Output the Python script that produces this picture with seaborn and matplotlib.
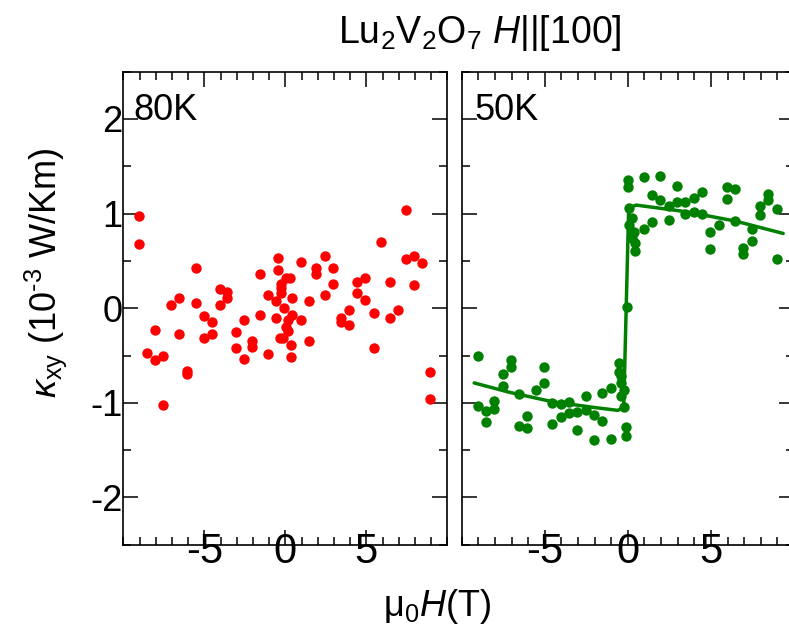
import numpy as np
import pandas as pd
import matplotlib
matplotlib.use("Agg")
import matplotlib.pyplot as plt
import seaborn as sns
from matplotlib.ticker import MultipleLocator, FixedLocator

# ---------------- data ----------------
field_80K = [-9.05, -9.05, 7.43, 5.93, -0.46, 2.43, 0.94, 7.43, 7.94, 8.43,
             -5.54, -1.57, -0.46, 1.91, 1.91, 2.94, 0.06, 0.27, -0.27, 2.94,
             4.42, 4.94, 6.44, 7.94, -4.06, -3.58, -3.58, -6.57, -7.08, -5.54,
             -4.06, -1.05, -0.27, -0.27, -0.56, 0.43, 1.44, 2.43, 4.42, 4.94,
             -0.06, 3.93, 6.93, -5.04, -4.55, -4.55, -5.04, -6.57, -8.06, -8.54,
             -8.06, -7.55, -6.05, -6.05, -7.55, -3.07, -2.58, -3.07, -2.58, -2.06,
             -2.06, -1.57, -1.05, -0.56, 0.16, 0.43, 0.06, 0.16, -0.35, -0.15,
             0.33, 0.33, 0.94, 1.44, 3.43, 3.43, 3.93, 5.45, 5.45, 6.44,
             8.93, 8.93]
kxy_80K = [0.97, 0.68, 1.04, 0.70, 0.53, 0.55, 0.49, 0.52, 0.555, 0.48,
           0.43, 0.36, 0.40, 0.43, 0.36, 0.43, 0.32, 0.32, 0.26, 0.26,
           0.28, 0.32, 0.28, 0.25, 0.20, 0.17, 0.11, 0.11, 0.03, 0.06,
           0.03, 0.14, 0.21, 0.16, 0.08, 0.11, 0.08, 0.14, 0.16, 0.09,
           0.00, -0.02, -0.02, -0.08, -0.15, -0.27, -0.31, -0.27, -0.23, -0.47,
           -0.55, -0.51, -0.66, -0.70, -1.02, -0.25, -0.13, -0.42, -0.54, -0.35,
           -0.41, -0.07, -0.48, -0.10, -0.12, -0.07, -0.20, -0.24, -0.31, -0.31,
           -0.39, -0.52, -0.12, -0.35, -0.10, -0.15, -0.18, -0.05, -0.42, -0.10,
           -0.67, -0.96]

field_50K = [0.02, 0.02, 0.96, 1.96, 1.46, 1.96, 2.96, 2.46, 2.96, 3.46,
             3.96, 4.46, 3.46, 3.96, 4.46, 2.46, 1.46, 0.96, 4.96, 4.96,
             5.46, 5.96, 6.46, 5.96, 6.46, 6.96, 6.96, 7.46, 7.46, 7.96,
             7.96, 8.46, 8.46, 8.96, 8.96,
             0.06, 0.26, 0.06, 0.36, 0.26, 0.46, 0.46, -0.04,
             -9.04, -9.04, -8.54, -8.54, -8.04, -8.04, -7.54, -7.54, -7.04, -7.04,
             -6.54, -6.54, -6.04, -6.04, -5.54, -5.04, -5.04, -4.54, -4.54, -4.04,
             -4.04, -3.54, -3.54, -3.04, -3.04, -2.54, -2.54, -2.04, -2.04, -1.54,
             -1.54, -1.04, -1.04, -0.54, -0.54, -0.44, -0.44, -0.44, -0.24, -0.24,
             -0.14, -0.14]
kxy_50K = [1.36, 1.28, 1.39, 1.40, 1.20, 1.14, 1.29, 1.08, 1.12, 1.12,
           1.17, 1.23, 1.00, 1.02, 1.00, 0.93, 0.91, 0.84, 0.81, 0.63,
           0.88, 1.28, 1.26, 1.15, 0.92, 0.64, 0.57, 0.84, 0.71, 1.08,
           0.99, 1.21, 1.14, 1.05, 0.52,
           1.06, 0.95, 0.88, 0.81, 0.74, 0.69, 0.60, 0.01,
           -0.51, -1.03, -1.09, -1.20, -0.98, -1.07, -0.70, -0.82, -0.55, -0.62,
           -0.91, -1.24, -1.14, -1.27, -0.86, -0.62, -0.79, -1.00, -1.22, -1.01,
           -1.15, -0.99, -1.11, -1.10, -1.29, -0.93, -1.08, -1.13, -1.39, -0.90,
           -1.19, -0.84, -1.38, -0.58, -0.67, -0.72, -0.79, -0.93, -0.86, -1.04,
           -1.26, -1.35]

fit_field_50K = [-9.25, -7.1, -4.5, -2.0, -0.6, -0.25, -0.1, 0.05, 0.5, 3.5, 6.5, 9.35]
fit_kxy_50K = [-0.79, -0.89, -0.99, -1.05, -1.08, -1.05, 0.0, 1.06, 1.09, 1.02, 0.92, 0.79]

x_ticks = [-5, 0, 5]
y_ticks = [-2, -1, 0, 1, 2]
panel_labels = ["80K", "50K"]
title_text = "Lu$_2$V$_2$O$_7$ $H$||[100]"

# ---------------- style ----------------
sns.set_theme(style="white")
plt.rcParams['font.family'] = ['Liberation Sans', 'DejaVu Sans']
plt.rcParams['mathtext.fontset'] = 'custom'
plt.rcParams['mathtext.rm'] = 'Liberation Sans'
plt.rcParams['mathtext.it'] = 'Liberation Sans:italic'
plt.rcParams['mathtext.bf'] = 'Liberation Sans:bold'
plt.rcParams['axes.unicode_minus'] = False
for key in ['text.color', 'axes.labelcolor', 'xtick.color', 'ytick.color', 'axes.edgecolor']:
    plt.rcParams[key] = 'black'

W, H = 789, 632
fig = plt.figure(figsize=(W / 100, H / 100), dpi=100)
fig.patch.set_facecolor('white')


def rect(l, r, t, b):
    return [l / W, 1 - b / H, (r - l) / W, (b - t) / H]


ax1 = fig.add_axes(rect(123.3, 447.3, 71.7, 544.7))
ax2 = fig.add_axes(rect(461.7, 794.0, 71.7, 544.7))

df80 = pd.DataFrame({"field": field_80K, "kxy": kxy_80K})
df50 = pd.DataFrame({"field": field_50K, "kxy": kxy_50K})
dfit = pd.DataFrame({"field": fit_field_50K, "kxy": fit_kxy_50K})

sns.scatterplot(data=df80, x="field", y="kxy", ax=ax1, color="#ff0000",
                s=56, linewidth=0, legend=False, zorder=3)
sns.lineplot(data=dfit, x="field", y="kxy", ax=ax2, color="#008000",
             lw=2.5, sort=False, estimator=None, legend=False, zorder=2)
sns.scatterplot(data=df50, x="field", y="kxy", ax=ax2, color="#008000",
                s=56, linewidth=0, legend=False, zorder=3)

for i, ax in enumerate([ax1, ax2]):
    ax.set_xlim(-10, 10)
    ax.set_ylim(-2.5, 2.5)
    ax.set_xlabel("")
    ax.set_ylabel("")
    ax.xaxis.set_major_locator(FixedLocator(x_ticks))
    ax.xaxis.set_minor_locator(MultipleLocator(1))
    ax.yaxis.set_major_locator(FixedLocator(y_ticks))
    ax.yaxis.set_minor_locator(MultipleLocator(0.5))
    for sp in ax.spines.values():
        sp.set_visible(True)
        sp.set_color('black')
        sp.set_linewidth(1.2)
    ax.tick_params(which='both', direction='in', top=True, right=True,
                   bottom=True, left=True, color='black', labelcolor='black', width=1.1)
    ax.tick_params(which='major', length=10.5)
    ax.tick_params(which='minor', length=5.5)
    ax.tick_params(axis='x', which='major', labelsize=30, pad=-9.5)
    ax.tick_params(axis='y', which='major', labelsize=26, pad=0.5)
    ax.set_facecolor('white')
    ax.grid(False)
    ax.text(0.03 if i == 0 else 0.04, 0.955, panel_labels[i], transform=ax.transAxes,
            fontsize=26, ha='left', va='top', zorder=5, color='black')

ax2.tick_params(axis='y', labelleft=False)

fig.text(480 / W, 1 - 33 / H, title_text, fontsize=27, ha='center', va='center')
fig.text(437 / W, 1 - 607 / H, "μ$_0$$H$(T)", fontsize=26, ha='center', va='center')
fig.text(46 / W, 1 - 273 / H, r"$\kappa_{\rm xy}$ (10$^{\text{-}3}$ W/Km)", fontsize=26,
         rotation=90, ha='center', va='center')

fig.savefig("out.png", dpi=100)
